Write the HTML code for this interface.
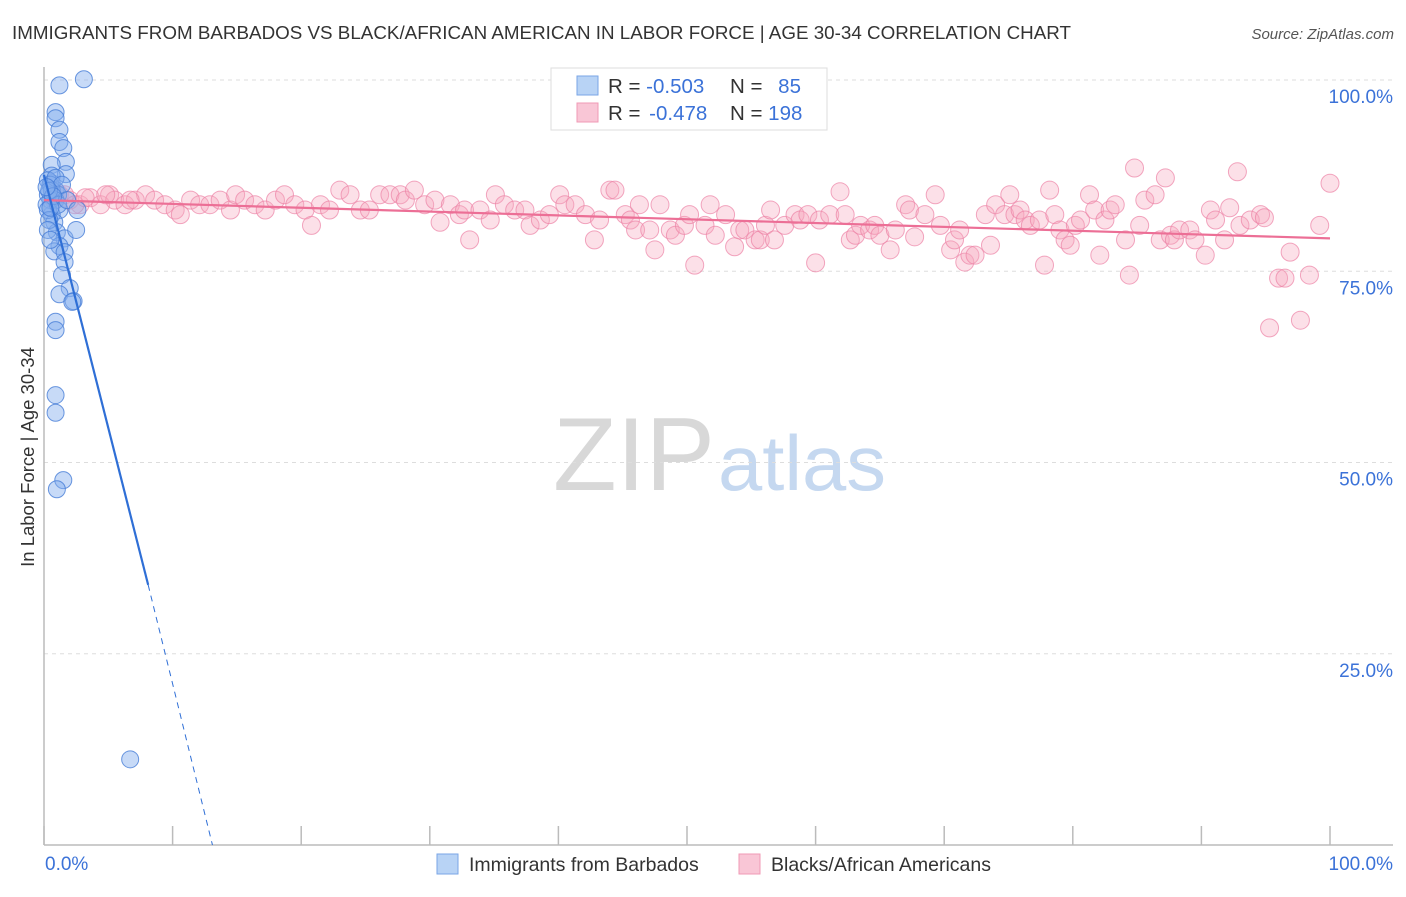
<!DOCTYPE html>
<html><head><meta charset="utf-8">
<style>
body{margin:0;background:#fff;font-family:"Liberation Sans",sans-serif;}
svg text{font-family:"Liberation Sans",sans-serif;}
</style></head>
<body>
<svg id="chart" width="1406" height="892" viewBox="0 0 1406 892" xmlns="http://www.w3.org/2000/svg">
<text x="12" y="39" font-size="18" fill="#333" textLength="1059" lengthAdjust="spacingAndGlyphs">IMMIGRANTS FROM BARBADOS VS BLACK/AFRICAN AMERICAN IN LABOR FORCE | AGE 30-34 CORRELATION CHART</text>
<text x="1394" y="39" font-size="15" fill="#555" font-style="italic" text-anchor="end">Source: ZipAtlas.com</text>
<g>
<text x="553" y="490" font-size="104" fill="#d8d8d8" font-family="Liberation Serif, serif" textLength="162" lengthAdjust="spacingAndGlyphs">ZIP</text>
<text x="718" y="490" font-size="78" fill="#c5d8f0" textLength="168" lengthAdjust="spacingAndGlyphs">atlas</text>
</g>
<g id="grid"></g>
<g id="axes"></g>
<g id="pink"></g>
<g id="blue"></g>
<g id="lines"></g>
<g>
<rect x="551" y="68" width="276" height="62" fill="#fff" stroke="#ddd"/>
<rect x="577" y="76" width="21" height="19" fill="#b8d3f5" stroke="#7aa6e6"/>
<rect x="577" y="103" width="21" height="19" fill="#f9c6d6" stroke="#f09ab5"/>
<text x="608" y="93" font-size="20.5" fill="#333">R = <tspan fill="#3b72d8">-0.503</tspan></text>
<text x="730" y="93" font-size="20.5" fill="#333">N = <tspan fill="#3b72d8" dx="10">85</tspan></text>
<text x="608" y="120" font-size="20.5" fill="#333">R = <tspan fill="#3b72d8" dx="3">-0.478</tspan></text>
<text x="730" y="120" font-size="20.5" fill="#333">N = <tspan fill="#3b72d8">198</tspan></text>
</g>
<g>
<rect x="437" y="854" width="21" height="20" fill="#b8d3f5" stroke="#7aa6e6"/>
<text x="469" y="871" font-size="19.5" fill="#333">Immigrants from Barbados</text>
<rect x="739" y="854" width="21" height="20" fill="#f9c6d6" stroke="#f09ab5"/>
<text x="771" y="871" font-size="19.5" fill="#333">Blacks/African Americans</text>
</g>
<text transform="translate(34,457) rotate(-90)" font-size="18.5" fill="#333" text-anchor="middle">In Labor Force | Age 30-34</text>
</svg>
<script>
const yTicks=[25,50,75,100];
const yTickLabels=["25.0%","50.0%","75.0%","100.0%"];
const xTicks=[0,10,20,30,40,50,60,70,80,90,100];
const blueX=[1.2,3.1,0.9,0.9,1.2,1.2,1.5,1.7,1.7,0.6,0.6,0.6,0.9,1.1,0.9,1.2,0.6,0.8,1.0,1.6,2.5,1.2,0.8,1.6,1.6,1.4,2.0,1.2,2.3,2.2,0.9,0.9,0.9,0.9,1.5,1.0,6.7,0.3,0.5,0.3,0.5,0.2,0.6,0.3,0.9,0.4,1.1,1.4,1.8,2.6,0.3,0.5,0.4,0.7,0.2,0.5];
const blueY=[99.3,100.1,95.8,95.0,93.5,91.9,91.1,89.3,87.7,88.9,87.5,86.5,85.6,85.0,84.3,83.0,82.4,81.4,80.1,79.3,80.4,78.3,77.6,77.5,76.2,74.5,72.8,72.0,71.1,71.0,68.4,67.3,58.8,56.5,47.7,46.5,11.2,86.9,86.3,85.0,84.3,83.7,85.6,83.0,87.2,81.7,83.7,86.3,84.3,83.0,80.4,79.1,85.5,84.8,86.0,83.3];
const pinkX=[1.2,2.0,2.8,3.6,4.4,5.1,5.5,6.3,7.1,7.9,8.6,9.4,10.2,10.6,11.4,12.1,12.9,13.7,14.5,14.9,15.6,16.4,17.2,18.0,18.7,19.5,20.3,20.8,21.5,22.2,23.0,23.8,24.6,25.3,26.1,26.9,27.7,28.1,28.8,29.6,30.4,30.8,31.6,32.3,32.7,33.1,33.9,34.7,35.1,35.8,36.6,37.4,37.8,38.6,39.3,40.1,40.5,41.3,42.1,42.8,43.2,44.0,44.4,45.2,45.6,46.0,46.3,47.1,47.5,47.9,48.7,49.1,49.8,50.2,50.6,51.4,51.8,52.2,53.0,53.7,54.1,54.5,55.3,55.7,56.1,56.5,56.8,57.6,58.4,58.8,59.4,60.0,60.3,61.1,61.9,62.3,62.7,63.1,63.5,64.2,64.6,65.0,65.8,66.2,67.0,67.3,67.7,68.5,69.3,69.7,70.5,70.8,71.2,71.6,72.0,72.4,73.2,73.6,74.0,74.7,75.1,75.5,75.9,76.3,76.7,77.4,77.8,78.2,78.6,79.0,79.4,79.8,80.2,80.6,81.3,81.7,82.1,82.5,82.9,83.3,84.1,84.4,84.8,85.2,85.6,86.4,86.8,87.2,87.6,87.9,88.3,89.1,89.5,90.3,90.7,91.1,91.8,92.2,92.8,93.0,93.8,94.6,94.9,95.3,96.0,96.5,96.9,97.7,98.4,99.2,100,0.8,1.6,2.4,3.2,4.8,6.7];
const pinkY=[85.0,84.3,83.7,84.6,83.7,85.0,84.3,83.7,84.3,85.0,84.3,83.7,83.0,82.4,84.3,83.7,83.7,84.3,83.0,85.0,84.3,83.7,83.0,84.3,85.0,83.7,83.0,81.0,83.7,83.0,85.6,85.0,83.0,83.0,85.0,85.0,85.0,84.3,85.6,83.7,84.3,81.4,83.7,82.4,83.0,79.1,83.0,81.7,85.0,83.7,83.0,83.0,81.0,81.7,82.4,85.0,83.7,83.7,82.4,79.1,81.7,85.6,85.6,82.4,81.7,80.4,83.7,80.4,77.8,83.7,80.4,79.7,81.0,82.4,75.8,81.0,83.7,79.7,82.4,78.2,80.4,80.4,79.1,79.1,81.0,83.0,79.1,81.0,82.4,81.7,82.4,76.1,81.7,82.4,85.4,82.4,79.1,79.7,81.0,80.4,81.0,79.7,77.8,80.4,83.7,83.0,79.5,82.4,85.0,81.0,77.8,79.1,80.4,76.2,77.1,77.1,82.4,78.4,83.7,82.4,85.0,82.4,83.0,81.7,81.0,81.7,75.8,85.6,82.4,80.4,79.1,78.4,81.0,81.7,85.0,83.0,77.1,81.7,83.0,83.7,79.1,74.5,88.5,81.0,84.3,85.0,79.1,87.2,79.7,79.1,80.4,80.4,79.1,77.1,83.0,81.7,79.1,83.3,88.0,81.0,81.7,82.4,82.0,67.6,74.1,74.1,77.5,68.6,74.5,81.0,86.5,84.3,85.0,83.7,84.6,85.0,84.3];
const blueTrend=[[0,87.6],[8.1,34.0],[13.1,0]];
const pinkTrend=[[0,84.3],[100,79.3]];

const X0=44,X1=1330,Y0=845,Y100=80;
const sx=v=>X0+(X1-X0)*v/100;
const sy=v=>Y0-(Y0-Y100)*v/100;
const NS="http://www.w3.org/2000/svg";
function mk(tag,attrs,parent){const e=document.createElementNS(NS,tag);for(const k in attrs)e.setAttribute(k,attrs[k]);parent.appendChild(e);return e;}

const grid=document.getElementById('grid');
yTicks.forEach((t,i)=>{
  const l=mk('line',{x1:X0,x2:1393,y1:sy(t),y2:sy(t),stroke:'#ddd','stroke-dasharray':'4,4'},grid);
  
  
  const tx=mk('text',{x:1393,y:sy(t)+23,'font-size':19,fill:'#3b72d8','text-anchor':'end'},grid);
  tx.textContent=yTickLabels[i];
  
  
});
const axes=document.getElementById('axes');
let a=mk('line',{x1:X0,x2:X0,y1:67,y2:Y0,stroke:'#bbb','stroke-width':1.5},axes);


a=mk('line',{x1:X0,x2:1393,y1:Y0,y2:Y0,stroke:'#bbb','stroke-width':1.5},axes);


xTicks.forEach(t=>{
  const l=mk('line',{x1:sx(t),x2:sx(t),y1:826,y2:Y0,stroke:'#bbb','stroke-width':1.5},axes);
  
  
});
let xl=mk('text',{x:45,y:870,'font-size':19,fill:'#3b72d8'},axes);xl.textContent='0.0%';


xl=mk('text',{x:1393,y:870,'font-size':19,fill:'#3b72d8','text-anchor':'end'},axes);xl.textContent='100.0%';



const pink=document.getElementById('pink');
pinkX.forEach((x,i)=>{
  const c=mk('circle',{cx:sx(x),cy:sy(pinkY[i]),r:9,fill:'rgba(246,165,190,0.35)',stroke:'rgba(236,130,165,0.7)','stroke-width':1},pink);
  
  
});
const blue=document.getElementById('blue');
blueX.forEach((x,i)=>{
  const c=mk('circle',{cx:sx(x),cy:sy(blueY[i]),r:8.5,fill:'rgba(130,172,238,0.45)',stroke:'rgba(70,125,215,0.8)','stroke-width':1},blue);
  
  
});
const lines=document.getElementById('lines');
let tl=mk('line',{x1:sx(pinkTrend[0][0]),y1:sy(pinkTrend[0][1]),x2:sx(pinkTrend[1][0]),y2:sy(pinkTrend[1][1]),stroke:'#ec6f96','stroke-width':2.2},lines);


tl=mk('line',{x1:sx(blueTrend[0][0]),y1:sy(blueTrend[0][1]),x2:sx(blueTrend[1][0]),y2:sy(blueTrend[1][1]),stroke:'#2f6fd6','stroke-width':2.2},lines);


tl=mk('line',{x1:sx(blueTrend[1][0]),y1:sy(blueTrend[1][1]),x2:sx(blueTrend[2][0]),y2:sy(blueTrend[2][1]),stroke:'#2f6fd6','stroke-width':1,'stroke-dasharray':'6,5'},lines);


</script>
</body></html>
